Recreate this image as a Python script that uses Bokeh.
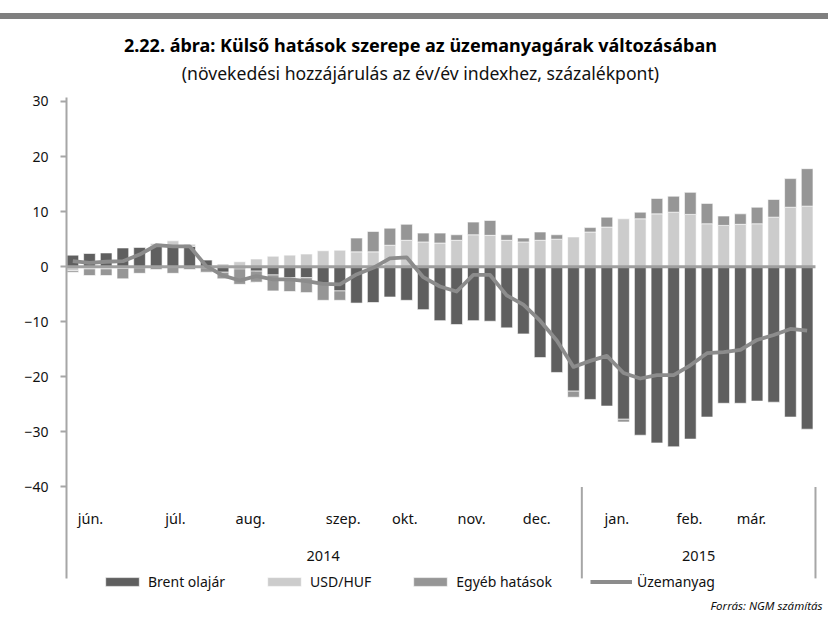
import numpy as np
from bokeh.plotting import figure
from bokeh.models import Range1d, FixedTicker, Legend, LegendItem, Div
from bokeh.layouts import column
from bokeh.embed import file_html
from bokeh.resources import INLINE
from bokeh.core.properties import value

# ---- data (weekly, 2014 June - 2015 March) ----
brent = [2.1, 2.4, 2.5, 3.4, 3.5, 3.8, 3.8, 3.7, 1.2, -1.0,
         -0.4, -0.8, -1.5, -2.0, -2.0, -3.0, -4.4, -6.6, -6.5, -5.5,
         -6.1, -7.8, -9.8, -10.5, -9.8, -9.9, -11.1, -12.2, -16.5, -19.2,
         -22.6, -24.1, -25.3, -27.7, -30.6, -32.0, -32.7, -31.3, -27.3, -24.8,
         -24.8, -24.4, -24.6, -27.3, -29.5]
usd = [-0.7, -0.4, -0.4, -0.3, -0.2, 0.4, 0.9, 0.4, -0.2, 0.5,
       0.9, 1.4, 1.9, 2.1, 2.3, 2.9, 3.0, 2.7, 2.7, 3.9,
       4.8, 4.5, 4.3, 4.8, 5.8, 5.7, 4.8, 4.5, 4.8, 5.0,
       5.4, 6.3, 7.2, 8.7, 8.7, 9.6, 9.9, 9.5, 7.8, 7.5,
       7.7, 7.8, 9.0, 10.8, 11.0]
egyeb = [-0.3, -1.2, -1.2, -1.9, -1.0, -0.5, -1.2, -0.5, -0.8, -1.2,
         -2.8, -2.0, -2.9, -2.5, -2.7, -3.1, -1.7, 2.5, 3.7, 3.1,
         2.9, 1.6, 1.8, 1.0, 2.3, 2.7, 1.0, 0.7, 1.5, 0.8,
         -1.1, 0.8, 1.8, -0.5, 1.2, 2.8, 2.9, 4.0, 3.7, 1.7,
         1.9, 3.0, 3.2, 5.2, 6.8]
uzemanyag = [1.0, 0.7, 0.9, 1.0, 2.2, 3.9, 3.7, 3.7, 0.1, -1.6,
             -2.5, -1.7, -2.3, -2.3, -2.6, -3.1, -3.2, -1.4, -0.2, 1.5,
             1.7, -1.9, -3.6, -4.5, -1.5, -1.5, -5.2, -6.9, -9.8, -13.4,
             -18.2, -17.1, -16.2, -19.3, -20.3, -19.7, -19.7, -17.9, -15.7, -15.5,
             -15.1, -13.3, -12.4, -11.3, -11.6]

months = ["jún.", "júl.", "aug.", "szep.", "okt.", "nov.", "dec.", "jan.", "feb.", "már."]
month_pos = [1.06, 6.15, 10.65, 16.2, 19.9, 23.9, 27.8, 32.6, 36.95, 40.66]
years = ["2014", "2015"]
year_weeks = [31, 14]
y_ticks = [-40, -30, -20, -10, 0, 10, 20, 30]

series_names = ["Brent olajár", "USD/HUF", "Egyéb hatások"]
series_colors = ["#5f5f5f", "#cccccc", "#969696"]
line_name = "Üzemanyag"
line_color = "#8c8c8c"

title_text = "2.22. ábra: Külső hatások szerepe az üzemanyagárak változásában"
subtitle_text = "(növekedési hozzájárulás az év/év indexhez, százalékpont)"
source_text = "Forrás: NGM számítás"

FONT = "Noto Sans"

n = len(brent)
idx = np.arange(n)

p = figure(width=828, height=604,
           x_range=Range1d(-0.377, 45.28), y_range=Range1d(-64.79, 44.89),
           output_backend="svg", toolbar_location=None, x_axis_location=None,
           min_border_left=66, min_border_right=0, min_border_top=0, min_border_bottom=0,
           outline_line_color=None, background_fill_color="white", border_fill_color="white")
p.grid.grid_line_color = None

ax = p.yaxis[0]
ax.ticker = FixedTicker(ticks=y_ticks)
ax.bounds = (-56.6, 30.7)
ax.axis_line_color = "#a6a6a6"
ax.axis_line_width = 2
ax.major_tick_line_color = "#a6a6a6"
ax.major_tick_line_width = 2
ax.major_tick_out = 6
ax.major_tick_in = 0
ax.minor_tick_line_color = None
ax.major_label_standoff = 12
ax.major_label_text_font = FONT
ax.major_label_text_font_size = "14px"
ax.major_label_text_color = "#111111"

# stacked bars (positive and negative parts stacked separately)
pos_base = np.zeros(n)
neg_base = np.zeros(n)
bar_renderers = []
for vals, col in zip([brent, usd, egyeb], series_colors):
    v = np.array(vals, dtype=float)
    bottom = np.where(v >= 0, pos_base, neg_base)
    top = bottom + v
    pos_base = np.where(v >= 0, top, pos_base)
    neg_base = np.where(v < 0, top, neg_base)
    r = p.vbar(x=idx, bottom=bottom, top=top, width=0.7,
               fill_color=col, line_color="white", line_width=0.6)
    bar_renderers.append(r)

# zero line
p.segment(x0=[p.x_range.start], x1=[n - 0.5], y0=[0], y1=[0],
          line_color="#a0a0a0", line_width=3)

# fuel price line
lr = p.line(idx, uzemanyag, line_color=line_color, line_width=3.8, line_join="round")

# category area: year separators
bounds_x = np.cumsum(year_weeks) - 0.5
p.segment(x0=bounds_x, x1=bounds_x, y0=[-40] * len(bounds_x), y1=[-56.6] * len(bounds_x),
          line_color="#a6a6a6", line_width=2)

p.text(x=month_pos, y=[-45.7] * len(months), text=months,
       text_font=value(FONT), text_font_size="14.5px", text_color="#111111",
       text_align="center", text_baseline="middle")
starts = np.concatenate([[-0.5], bounds_x[:-1]])
p.text(x=(starts + bounds_x) / 2, y=[-52.6] * len(years), text=years,
       text_font=value(FONT), text_font_size="14.5px", text_color="#111111",
       text_align="center", text_baseline="middle")

# titles
p.text(x=[20.83], y=[40.2], text=[title_text], text_font=value(FONT),
       text_font_size="18px", text_font_style="bold", text_color="#000000",
       text_align="center", text_baseline="middle")
p.text(x=[20.83], y=[35.1], text=[subtitle_text], text_font=value(FONT),
       text_font_size="17.6px", text_color="#111111",
       text_align="center", text_baseline="middle")
p.text(x=[44.92], y=[-61.5], text=[source_text], text_font=value(FONT),
       text_font_size="11.5px", text_font_style="italic", text_color="#111111",
       text_align="right", text_baseline="middle")

legend = Legend(items=[LegendItem(label=nm, renderers=[r]) for nm, r in zip(series_names, bar_renderers)]
                + [LegendItem(label=line_name, renderers=[lr])],
                orientation="horizontal", location=(35, 32),
                glyph_width=42, glyph_height=11, label_standoff=5, spacing=38,
                padding=0, margin=0, border_line_color=None, background_fill_alpha=0,
                label_text_font=FONT, label_text_font_size="14px", label_text_color="#111111")
p.add_layout(legend)

band = Div(text="", width=828, height=6, margin=(13, 0, 0, 0),
           styles={"background-color": "#7f7f7f"})
layout = column(band, p, spacing=0)

open("out.html", "w").write(file_html(layout, INLINE))
